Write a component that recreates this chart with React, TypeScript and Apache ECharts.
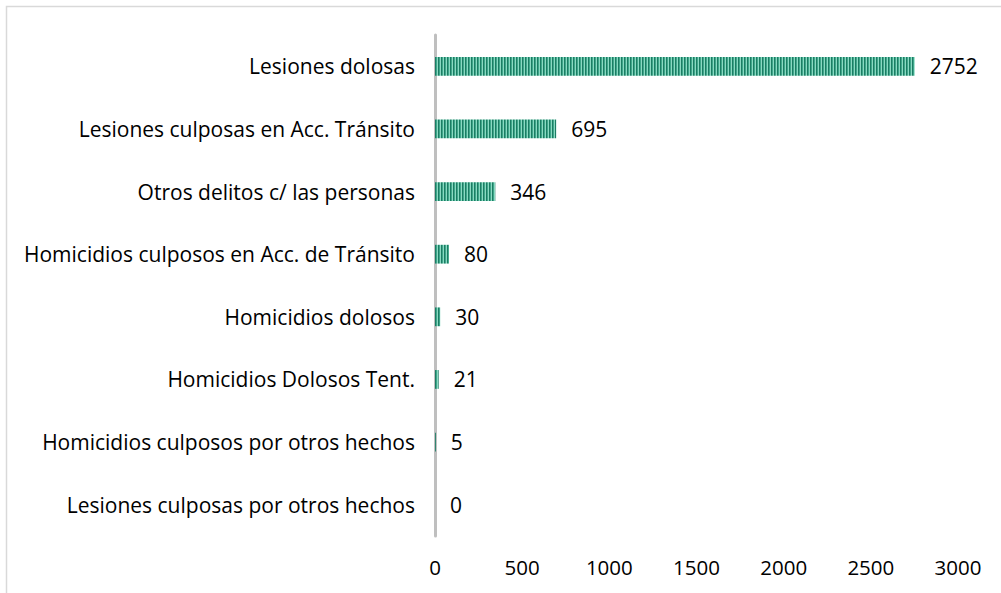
import React, { useEffect, useRef } from "react";
import * as echarts from "echarts";

const categories = [
  "Lesiones culposas por otros hechos",
  "Homicidios culposos por otros hechos",
  "Homicidios Dolosos Tent.",
  "Homicidios dolosos",
  "Homicidios culposos en Acc. de Tránsito",
  "Otros delitos c/ las personas",
  "Lesiones culposas en Acc. Tránsito",
  "Lesiones dolosas",
];
const values = [0, 5, 21, 30, 80, 346, 695, 2752];
const xTicks = [0, 500, 1000, 1500, 2000, 2500, 3000];

const stripeSvg =
  "data:image/svg+xml;utf8," +
  encodeURIComponent(
    '<svg xmlns="http://www.w3.org/2000/svg" width="3" height="4">' +
      '<rect x="0" y="0" width="1" height="4" fill="#1c7c64"/>' +
      '<rect x="1" y="0" width="1" height="4" fill="#3fa78a"/>' +
      '<rect x="2" y="0" width="1" height="4" fill="#8ad9c2"/>' +
      "</svg>"
  );

export default function App() {
  const ref = useRef<HTMLDivElement>(null);
  useEffect(() => {
    if (!ref.current) return;
    const chart = echarts.init(ref.current, undefined, { renderer: "svg" });
    const font = "'Open Sans', 'Noto Sans', sans-serif";
    chart.setOption({
      animation: false,
      backgroundColor: "#ffffff",
      graphic: [
        {
          type: "rect",
          shape: { x: 6.5, y: 6.5, width: 1200, height: 800 },
          style: { fill: "none", stroke: "#d9d9d9", lineWidth: 1.5 },
          silent: true,
        },
      ],
      grid: { left: 435, right: 43, top: 35, bottom: 57 },
      xAxis: {
        type: "value",
        min: 0,
        max: 3000,
        interval: 500,
        axisLine: { show: false },
        axisTick: { show: false },
        splitLine: { show: false },
        axisLabel: {
          color: "#000",
          fontSize: 20.5,
          fontFamily: font,
          margin: 20,
          formatter: (v: number) => (xTicks.includes(v) ? String(v) : ""),
        },
      },
      yAxis: {
        type: "category",
        data: categories,
        axisLine: { show: true, lineStyle: { color: "#bfbfbf", width: 3 } },
        axisTick: { show: false },
        axisLabel: {
          color: "#000",
          fontSize: 21,
          fontFamily: font,
          margin: 20,
        },
      },
      series: [
        {
          type: "bar",
          data: values,
          barCategoryGap: "70%",
          itemStyle: {
            color: { image: stripeSvg, repeat: "repeat" },
          },
          label: {
            show: true,
            position: "right",
            distance: 15,
            color: "#000",
            fontSize: 21,
            fontFamily: font,
          },
        },
      ],
    });
    return () => chart.dispose();
  }, []);
  return (
    <div
      ref={ref}
      style={{ position: "fixed", left: 0, top: 0, width: 1001, height: 593 }}
    />
  );
}
